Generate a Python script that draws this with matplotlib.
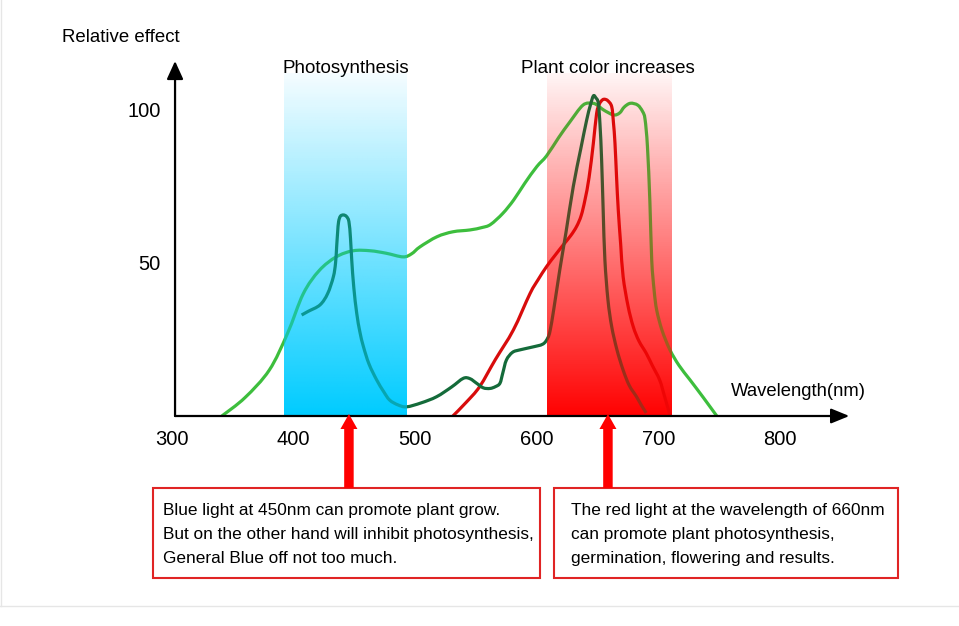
import numpy as np
import matplotlib
matplotlib.use("Agg")
import matplotlib.pyplot as plt
from matplotlib.patches import Rectangle, FancyArrow, PathPatch
from matplotlib.path import Path

plt.rcParams['font.family'] = ['Liberation Sans', 'DejaVu Sans']

# ---------------- data ----------------
x_ticks = [300, 400, 500, 600, 700, 800]
y_ticks = [50, 100]

blue_band = (392, 493)
red_band = (608, 710)
band_top = 112

light_green_wl = [341, 360, 380, 395, 408, 421, 435, 449, 463, 476, 490, 497, 504, 518, 531,
                  545, 555, 562, 572, 581, 590, 600, 608, 618, 627, 638, 646, 650, 655, 663,
                  668, 672, 677, 683, 687, 689, 691, 693, 694.5, 696.5, 698.6, 703, 709.5,
                  717, 726, 737, 748]
light_green_val = [0, 6, 15, 27, 40, 47.5, 52, 54, 54, 53.2, 52, 53, 55.3, 58.6, 60.2,
                   60.8, 61.6, 62.6, 66.2, 70.6, 76, 81.5, 85, 91, 96, 101.6, 102.2, 101.5, 100, 98.4,
                   99, 101, 102.2, 101.6, 99.5, 97, 88, 70, 51, 41, 34.6, 28, 21.6,
                   16.5, 11.8, 6, 0]

dark_green_wl = [406.6, 412, 421.7, 428, 432.7, 434.5, 435.4, 436.2, 437, 438.5, 441, 443.5,
                 445.5, 446.8, 447.8, 449.5, 451.9, 454.5, 457.4, 462, 468.3, 474, 479, 486,
                 493, 505, 517.6, 530, 539.5, 545, 550.5, 556, 561.5, 566, 569.7, 572, 575,
                 580, 586, 596, 605, 609, 611, 614, 619, 624, 630, 636, 641, 644, 646.5,
                 648.5, 650.6, 652, 653.3, 654.6, 656, 658.5, 661.6, 666, 671, 676, 682,
                 686, 690]
dark_green_val = [33, 34.2, 36.3, 40, 45.5, 50, 55.3, 60, 63.5, 65.3, 65.7, 65.2,
                  63.5, 58, 51, 42, 33.6, 27.5, 22.7, 17, 11.8, 8, 5.2, 3.6,
                  3, 4.3, 6.3, 9.5, 12.3, 12.2, 10.7, 9.2, 9, 9.6, 10.7, 14, 18.3,
                  20.8, 21.6, 22.5, 23.5, 25.5, 28, 35, 48, 60, 75, 87, 96.7, 101.5, 104.6,
                  104, 102.2, 95, 83.7, 67, 51, 38, 29.2, 21.5, 15, 10, 6.3,
                  3.5, 1]

red_wl = [531, 542, 553, 566, 580.7, 594.4, 601, 608, 615, 621.7, 628, 632.8, 636.5, 639.6,
          643, 646.5, 649.2, 651.5, 654, 656, 658.5, 661.6, 663, 664.3, 665.6, 667, 669,
          671, 675, 679.3, 684, 690, 695, 701, 705, 709.5]
red_val = [0, 4.5, 9.6, 18.5, 28.1, 40, 44.5, 48.8, 52.5, 55.9, 59, 62, 65.5, 70.6,
           78, 89.1, 98.9, 102, 103.3, 103.5, 103, 101.1, 96, 89.1, 78, 67.3, 56,
           45.5, 36, 29.2, 24.5, 20.5, 16.5, 11.8, 6.5, 0.3]

band_labels = ["Photosynthesis", "Plant color increases"]
band_label_x = [443, 658.5]

arrow_x = [445.5, 658.5]
box_texts = ["Blue light at 450nm can promote plant grow.\n"
             "But on the other hand will inhibit photosynthesis,\n"
             "General Blue off not too much.",
             "The red light at the wavelength of 660nm\n"
             "can promote plant photosynthesis,\n"
             "germination, flowering and results."]


def smooth_path(xs, ys):
    """Catmull-Rom curve through the read points, as cubic Bezier path."""
    p = np.column_stack([xs, ys]).astype(float)
    ext = np.vstack([p[0], p, p[-1]])
    verts = [tuple(p[0])]
    codes = [Path.MOVETO]
    for i in range(1, len(ext) - 2):
        p0, p1, p2, p3 = ext[i - 1], ext[i], ext[i + 1], ext[i + 2]
        c1 = p1 + (p2 - p0) / 6.0
        c2 = p2 - (p3 - p1) / 6.0
        verts += [tuple(c1), tuple(c2), tuple(p2)]
        codes += [Path.CURVE4] * 3
    return Path(verts, codes)


# ---------------- figure ----------------
W, H = 959, 626
fig = plt.figure(figsize=(W / 100, H / 100), dpi=100)
fig.patch.set_facecolor('white')

x0_px, px_per_nm = 172, 1.216
y0_px, px_per_unit = 416, 3.06
xlim = (300, 860)
ylim = (0, 118)
left = x0_px / W
width = (xlim[1] - xlim[0]) * px_per_nm / W
bottom = (H - y0_px) / H
height = (ylim[1] - ylim[0]) * px_per_unit / H
ax = fig.add_axes([left, bottom, width, height])
ax.set_xlim(*xlim)
ax.set_ylim(*ylim)
ax.patch.set_alpha(0)
for s in ax.spines.values():
    s.set_visible(False)

# gradient bands: opaque under-layer + translucent over-layer that tints the curves
n = 256
t = np.linspace(0, 1, n)            # 0 at bottom, 1 at top
a_bg = 1.0 - 0.96 * t               # strength of band colour over white
k = 0.65
a_ov = k * a_bg
a_under = (a_bg - a_ov) / (1 - a_ov)
for C, band in (((0.0, 0.8, 1.0), blue_band), ((1.0, 0.01, 0.01), red_band)):
    C = np.array(C)
    under = np.ones((n, 1, 4))
    under[:, 0, :3] = a_under[:, None] * C + (1 - a_under[:, None])
    over = np.ones((n, 1, 4))
    over[:, 0, :3] = C
    over[:, 0, 3] = a_ov
    ext = [band[0], band[1], 0, band_top]
    ax.imshow(under, extent=ext, origin='lower', aspect='auto', zorder=1,
              interpolation='bilinear')
    ax.imshow(over, extent=ext, origin='lower', aspect='auto', zorder=6,
              interpolation='bilinear')

# curves
lw = 2.3
for xs, ys, col, z in ((light_green_wl, light_green_val, '#3DBE3D', 3),
                       (red_wl, red_val, '#D80C0C', 4),
                       (dark_green_wl, dark_green_val, '#146B3A', 5)):
    ax.add_patch(PathPatch(smooth_path(xs, ys), fill=False, edgecolor=col, lw=lw,
                           joinstyle='round', capstyle='butt', zorder=z))

# axes with arrows
ax.annotate('', xy=(857, 0), xytext=(302.5, 0), xycoords='data',
            arrowprops=dict(arrowstyle='-|>,head_length=1.1,head_width=0.45',
                            color='black', lw=1.6, shrinkA=0, shrinkB=0),
            annotation_clip=False, zorder=8)
ax.annotate('', xy=(302.5, 116), xytext=(302.5, 0), xycoords='data',
            arrowprops=dict(arrowstyle='-|>,head_length=1.1,head_width=0.5',
                            color='black', lw=1.6, shrinkA=0, shrinkB=0),
            annotation_clip=False, zorder=8)

# ticks
ax.set_xticks(x_ticks)
ax.set_xticklabels([str(v) for v in x_ticks])
ax.set_yticks(y_ticks)
ax.set_yticklabels([str(v) for v in y_ticks])
ax.tick_params(axis='x', length=0, pad=10, labelsize=14.5)
ax.tick_params(axis='y', length=0, pad=8, labelsize=14.5)

# axis titles
fig.text(62 / W, 1 - 37 / H, "Relative effect", fontsize=13.4, ha='left', va='center')
fig.text(798 / W, 1 - 391 / H, "Wavelength(nm)", fontsize=13.3, ha='center', va='center')

# band labels
for lbl, xv in zip(band_labels, band_label_x):
    ax.text(xv, (y0_px - 69) / px_per_unit, lbl, fontsize=13.5, ha='center', va='center',
            clip_on=False)

# boxes and red arrows (figure pixel coords)
box_px = [(153, 488, 540, 578), (554, 488, 898, 578)]
text_x = [163, 571]
for (bx0, by0, bx1, by1), txt, tx in zip(box_px, box_texts, text_x):
    fig.patches.append(Rectangle((bx0 / W, 1 - by1 / H), (bx1 - bx0) / W, (by1 - by0) / H,
                                 transform=fig.transFigure, fill=False,
                                 edgecolor='#E02424', lw=1.5))
    fig.text(tx / W, 1 - 534.5 / H, txt, fontsize=12.4,
             ha='left', va='center', linespacing=1.74)

for xv in arrow_x:
    xp = x0_px + (xv - xlim[0]) * px_per_nm
    fig.patches.append(FancyArrow(xp / W, 1 - 488 / H, 0, (488 - 414) / H,
                                  width=9.5 / W, head_width=17 / W, head_length=15 / H,
                                  length_includes_head=True, transform=fig.transFigure,
                                  color='#FF0000', lw=0))

# page frame lines
fig.add_artist(plt.Line2D([0, 1], [1 - 606 / H, 1 - 606 / H], transform=fig.transFigure,
                          color='#E6E6E6', lw=1))
fig.add_artist(plt.Line2D([1 / W, 1 / W], [1 - 606 / H, 1], transform=fig.transFigure,
                          color='#E6E6E6', lw=1))

fig.savefig('out.png', dpi=100)
